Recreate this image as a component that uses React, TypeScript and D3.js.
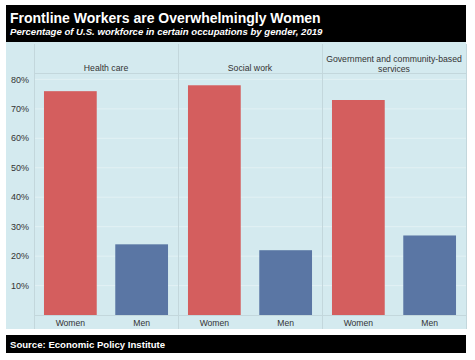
import React from "react";
import * as d3 from "d3";

const occupations = ["Health care", "Social work", "Government and community-based services"];
const headerLines = [["Health care"], ["Social work"], ["Government and community-based", "services"]];
const genders = ["Women", "Men"];
const women = [76, 78, 73];
const men = [24, 22, 27];
const yTicks = [10, 20, 30, 40, 50, 60, 70, 80];

const W = 475;
const H = 360;
const FONT = "'Liberation Sans', Arial, Helvetica, sans-serif";

export default function App() {
  const plotLeft = 34;
  const plotRight = 466;
  const bgTop = 42;
  const bgBottom = 329;
  const stripTop = 44;
  const stripBottom = 73.5;
  const baseY = 315;

  const y = d3.scaleLinear().domain([0, 82]).range([baseY, stripBottom]);
  const panel = d3.scaleBand<string>().domain(occupations).range([plotLeft, plotRight]).padding(0);
  const inner = d3
    .scaleBand<string>()
    .domain(genders)
    .range([0, panel.bandwidth()])
    .paddingInner(0.26)
    .paddingOuter(0.14);

  const colors: Record<string, string> = { Women: "#d45e5e", Men: "#5a76a4" };
  const bg = "#d4eaef";
  const borderCol = "#c3d7dc";
  const gridCol = "#e2f1f4";

  return (
    <svg width={W} height={H} style={{ position: "absolute", left: 0, top: 0, display: "block" }}>
      <rect x={0} y={0} width={W} height={H} fill="#ffffff" />
      {/* title box */}
      <rect x={6} y={5} width={460} height={37} fill="#000000" />
      <text x={10} y={23} fill="#ffffff" fontFamily={FONT} fontWeight="bold" fontSize={14}>
        Frontline Workers are Overwhelmingly Women
      </text>
      <text x={10} y={35} fill="#ffffff" fontFamily={FONT} fontWeight="bold" fontStyle="italic" fontSize={9.6}>
        Percentage of U.S. workforce in certain occupations by gender, 2019
      </text>

      {/* chart background */}
      <rect x={6} y={bgTop} width={460} height={bgBottom - bgTop} fill={bg} />

      {/* y tick labels */}
      {yTicks.map((t) => (
        <text
          key={t}
          x={29}
          y={y(t)}
          dy="0.35em"
          textAnchor="end"
          fill="#333333"
          fontFamily={FONT}
          fontSize={9}
        >
          {t}%
        </text>
      ))}

      {/* panels */}
      {occupations.map((occ, i) => {
        const px = panel(occ)!;
        const pw = panel.bandwidth();
        const vals = [women[i], men[i]];
        const lines = headerLines[i];
        return (
          <g key={occ}>
            {yTicks.map((t) => (
              <line key={t} x1={px} x2={px + pw} y1={y(t)} y2={y(t)} stroke={gridCol} strokeWidth={1} />
            ))}
            <line x1={px} x2={px + pw} y1={stripBottom} y2={stripBottom} stroke={borderCol} strokeWidth={1} />
            <line x1={px} x2={px + pw} y1={baseY + 0.5} y2={baseY + 0.5} stroke={borderCol} strokeWidth={1} />
            {lines.map((ln, k) => (
              <text
                key={k}
                x={px + pw / 2}
                y={lines.length === 1 ? 71 : 62 + k * 10}
                textAnchor="middle"
                fill="#333333"
                fontFamily={FONT}
                fontSize={8.7}
              >
                {ln}
              </text>
            ))}
            {genders.map((g, j) => (
              <g key={g}>
                <rect
                  x={px + inner(g)!}
                  y={y(vals[j])}
                  width={inner.bandwidth()}
                  height={baseY - y(vals[j])}
                  fill={colors[g]}
                />
                <text
                  x={px + inner(g)! + inner.bandwidth() / 2}
                  y={326}
                  textAnchor="middle"
                  fill="#333333"
                  fontFamily={FONT}
                  fontSize={8.6}
                >
                  {g}
                </text>
              </g>
            ))}
          </g>
        );
      })}

      {/* panel borders */}
      {[plotLeft, ...occupations.map((o) => panel(o)! + panel.bandwidth())].map((x, k) => (
        <line key={k} x1={x + 0.5} x2={x + 0.5} y1={stripTop} y2={bgBottom} stroke={borderCol} strokeWidth={1} />
      ))}

      {/* source box */}
      <rect x={6} y={335} width={460} height={18} fill="#000000" />
      <text x={10} y={348} fill="#ffffff" fontFamily={FONT} fontWeight="bold" fontSize={9.6}>
        Source: Economic Policy Institute
      </text>
    </svg>
  );
}
